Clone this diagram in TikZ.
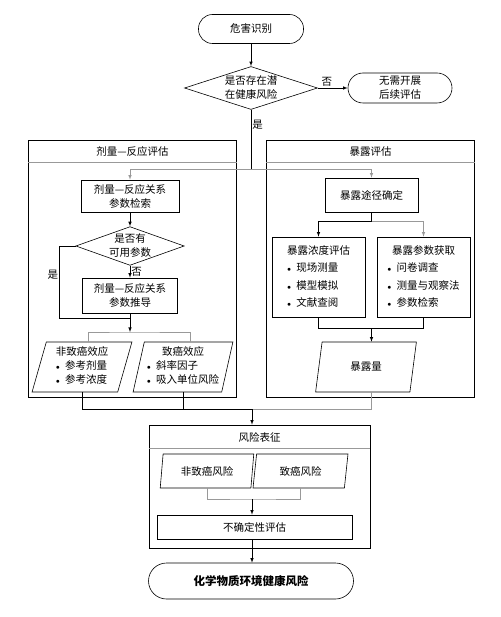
\documentclass[tikz,border=0pt]{standalone}
\usepackage{fontspec}
\setmainfont{Noto Sans CJK SC}
\usetikzlibrary{shapes.geometric}

\begin{document}
\begin{tikzpicture}[>=latex, x=1pt, y=-1pt, line width=.6pt,
  every node/.style={font=\fontsize{10.5}{14}\selectfont, align=center, inner sep=1pt},
  term/.style={draw, rectangle, rounded corners=14pt, minimum width=105pt, minimum height=29pt},
  quest/.style={draw, diamond, inner sep=0pt},
  box/.style={draw, rectangle, minimum width=95pt, minimum height=33pt},
  panel/.style={draw, rectangle, minimum width=208pt, minimum height=257pt},
  para/.style={draw, trapezium, trapezium left angle=76, trapezium right angle=104,
    trapezium stretches=true, minimum width=100pt, minimum height=50pt, inner sep=0pt},
  gline/.style={draw=black!40}]
\useasboundingbox (0,0) rectangle (500,617);

% three panels
\node[panel] (dpanel) at (132.5,268.5) {};
\node[panel] (epanel) at (370.5,268.5) {};
\node[panel, minimum width=221pt, minimum height=123pt] (rpanel) at (259.5,486.5) {};
\node (dhead) at (132.5,152) {剂量—反应评估};
\node (ehead) at (370.5,152) {暴露评估};
\node (rhead) at (259.5,437) {风险表征};
\draw[gline] ([yshift=-23pt]dpanel.north west) -- ([yshift=-23pt]dpanel.north east);
\draw[gline] ([yshift=-23pt]epanel.north west) -- ([yshift=-23pt]epanel.north east);
\draw[gline] ([yshift=-24pt]rpanel.north west) -- ([yshift=-24pt]rpanel.north east);

% top
\node[term] (hazard) at (251,29) {危害识别};
\node[quest, minimum width=133pt, minimum height=43pt, aspect=3] (exist) at (251,88) {是否存在潜\\在健康风险};
\node[term, minimum width=104pt, minimum height=30pt, rounded corners=15pt] (stop) at (400,88) {无需开展\\后续评估};
\coordinate (split) at (251,169);

% dose-response
\node[box, minimum width=98pt, minimum height=32pt] (dsearch) at (130,196) {剂量—反应关系\\参数检索};
\node[quest, minimum width=105pt, minimum height=38pt, aspect=2.8] (avail) at (130,246) {是否有\\可用参数};
\node[box, minimum height=35pt] (dderive) at (130,295.5) {剂量—反应关系\\参数推导};
\coordinate (dmerge) at (130,318);
\coordinate (dsplit) at (130,332);
\node[para] (noncanc) at (82,367) {\begin{tabular}{@{}l@{}}\multicolumn{1}{@{}c@{}}{非致癌效应}\\$\scriptstyle\bullet$\enspace 参考剂量\\$\scriptstyle\bullet$\enspace 参考浓度\end{tabular}};
\node[para] (canc) at (183,367) {\begin{tabular}{@{}l@{}}\multicolumn{1}{@{}c@{}}{致癌效应}\\$\scriptstyle\bullet$\enspace 斜率因子\\$\scriptstyle\bullet$\enspace 吸入单位风险\end{tabular}};

% exposure
\node[box, minimum width=93pt, minimum height=34pt] (eroute) at (371.5,195) {暴露途径确定};
\coordinate (esplit) at (371.5,221);
\node[box, minimum width=93pt, minimum height=80pt] (econc) at (318.5,277) {\renewcommand\arraystretch{1.25}\begin{tabular}{@{}l@{}}\multicolumn{1}{@{}c@{}}{暴露浓度评估}\\$\scriptstyle\bullet$\enspace 现场测量\\$\scriptstyle\bullet$\enspace 模型模拟\\$\scriptstyle\bullet$\enspace 文献查阅\end{tabular}};
\node[box, minimum width=93pt, minimum height=80pt] (eparam) at (423.5,277) {\renewcommand\arraystretch{1.25}\begin{tabular}{@{}l@{}}\multicolumn{1}{@{}c@{}}{暴露参数获取}\\$\scriptstyle\bullet$\enspace 问卷调查\\$\scriptstyle\bullet$\enspace 测量与观察法\\$\scriptstyle\bullet$\enspace 参数检索\end{tabular}};
\coordinate (emerge) at (371.5,328);
\node[para, minimum width=101pt] (eamount) at (366,367) {暴露量};
\coordinate (rjoin) at (252,409);

% risk
\node[para, trapezium left angle=80, trapezium right angle=100, minimum width=94pt, minimum height=34pt] (rnon) at (207,471) {非致癌风险};
\node[para, trapezium left angle=80, trapezium right angle=100, minimum width=95pt, minimum height=34pt] (rcanc) at (300.5,471) {致癌风险};
\coordinate (rmerge) at (252,499);
\node[box, minimum width=195pt, minimum height=24pt] (uncert) at (254.5,527) {不确定性评估};
\node[term, minimum width=205pt, minimum height=36pt, rounded corners=18pt,
  font=\fontsize{11.5}{14}\selectfont\bfseries] (result) at (251,581) {化学物质环境健康风险};

\draw[->] (hazard) -- (exist);
\draw[->] (exist) -- node[above, pos=.3]{否} (stop);
\draw (exist) -- node[right, pos=.25]{是} (split);
\draw[gline,->] (split) -| (dsearch);
\draw[gline,->] (split) -| (eroute);

\draw[->] (dsearch) -- (avail);
\draw[->] (avail) -- node[right]{否} (dderive);
\draw (avail.west) -- ++(-16,0) |- node[left, pos=.2]{是} (dmerge);
\draw[gline] ([xshift=6pt]noncanc.north) |- (dsplit) -| ([xshift=7pt]canc.north);
\draw[->] (dderive) -- (dsplit);

\draw (eroute) -- (esplit);
\draw[->] (esplit) -| (econc);
\draw[gline,->] (esplit) -| (eparam);
\draw (econc) |- (emerge);
\draw (eparam) |- (emerge);
\draw[->] (emerge) -- (emerge |- eamount.north);

\draw (noncanc) |- (rjoin);
\draw (canc) |- (rjoin);
\draw[gline] ([xshift=5pt]eamount.south) |- (rjoin);
\draw[->] (rjoin) -- (rjoin |- rpanel.north);

\draw[gline] (rnon) |- (rmerge) -| (rcanc);
\draw[->] (rmerge) -- (rmerge |- uncert.north);
\draw[->] (rmerge |- uncert.south) -- (rmerge |- result.north);
\end{tikzpicture}
\end{document}
